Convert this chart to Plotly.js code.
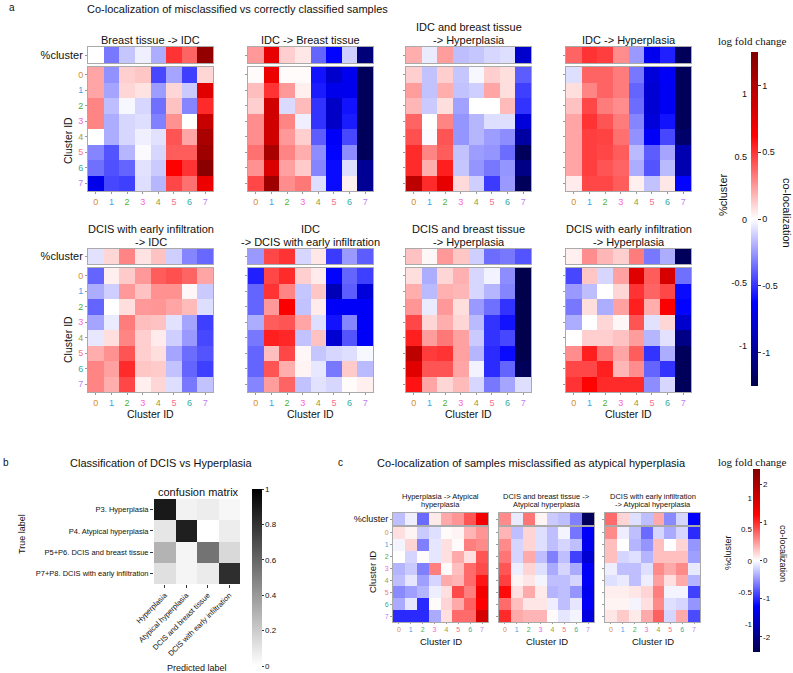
<!DOCTYPE html>
<html><head><meta charset="utf-8">
<script src="https://cdn.plot.ly/plotly-3.0.1.min.js"></script>
<style>body{margin:0;background:#fff}#chart{width:793px;height:673px}</style>
</head><body><div id="chart"></div>
<script>
const W = 793, H = 673;
const FONT = 'Liberation Sans, Arial, sans-serif';
const SERIF = 'Liberation Serif, Times New Roman, serif';

// ---------- shared categories ----------
const clusterIds = ['0','1','2','3','4','5','6','7'];
const clusterColors = ['#d58c32','#3ba3ec','#50b131','#f564d4','#a4a031','#f77189','#36ada4','#bb83f4'];

// ---------- panel a : titles ----------
const aTitles = [
  ['Breast tissue -> IDC'],
  ['IDC -> Breast tissue'],
  ['IDC and breast tissue', '-> Hyperplasia'],
  ['IDC -> Hyperplasia'],
  ['DCIS with early infiltration', '-> IDC'],
  ['IDC', '-> DCIS with early infiltration'],
  ['DCIS and breast tissue', '-> Hyperplasia'],
  ['DCIS with early infiltration', '-> Hyperplasia']
];

// ---------- panel a : %cluster rows ----------
const a1Pct = [0, -0.33, -0.14, -0.04, -0.2, 0.5, 0.38, 1.15];
const a2Pct = [0.25, 0.75, 0.12, 0.06, -0.38, -0.62, -0.12, -1.1];
const a3Pct = [0.2, -0.05, 0.24, -0.16, -0.14, -0.1, -0.08, -0.8];
const a4Pct = [0.38, 0.5, 0.47, 0.28, -0.25, -0.68, -0.55, -1.2];
const a5Pct = [-0.07, 0.1, 0.3, 0.07, 0.15, -0.12, -0.3, -0.37];
const a6Pct = [-0.25, 0.45, 0.5, -0.1, 0.06, -0.48, -0.25, -0.4];
const a7Pct = [0.15, 0.02, 0.25, 0.14, -0.12, -0.36, -0.33, -0.42];
const a8Pct = [0.04, 0.28, 0.18, 0.12, 0.32, -0.33, -0.2, -1.2];

// ---------- panel a : co-localization matrices ----------
const a1Co = [
  [0.22, -0.27, 0.12, 0.14, -0.45, -0.22, -0.47, 0.1],
  [0.22, -0.22, 0.1, 0.07, -0.24, 0.1, -0.13, 0.78],
  [0.3, -0.16, -0.02, -0.1, -0.35, 0.15, -0.3, 0.52],
  [0.3, -0.2, -0.1, -0.08, -0.31, 0.27, 0, 0.9],
  [0, -0.2, -0.1, -0.04, -0.07, 0.42, 0.22, 1.05],
  [-0.3, -0.42, -0.18, -0.01, -0.1, 0.4, 0.4, 1.1],
  [-0.35, -0.43, -0.38, -0.07, -0.13, 0.63, 0.5, 1.2],
  [-0.7, -0.45, -0.47, -0.08, -0.18, 0.45, 0.35, 0.72]
];
const a2Co = [
  [0.01, 0.72, 0.01, 0.01, -0.58, -0.8, -0.68, -1.2],
  [0.16, 0.5, 0.25, 0.04, -0.56, -0.7, -0.68, -1.2],
  [0.12, 0.85, -0.09, 0.17, -0.5, -0.82, -0.58, -1.2],
  [0.28, 0.85, 0.3, -0.04, -0.5, -0.82, -0.56, -1.2],
  [0.28, 0.85, 0.25, 0.12, -0.4, -0.65, -0.45, -1.2],
  [0.35, 1.05, 0.3, 0.2, -0.28, -0.62, -0.28, -1.2],
  [0.27, 0.8, 0.23, 0.13, -0.3, -0.6, -0.08, -1.0],
  [0.45, 1.1, 0.28, 0.33, -0.08, -0.6, 0.04, -1.0]
];
const a3Co = [
  [0.12, -0.15, 0.12, -0.14, -0.02, 0.12, 0.08, -0.4],
  [0.24, -0.15, 0.2, -0.15, -0.12, 0.22, 0.08, -0.47],
  [0.18, -0.13, 0.08, -0.23, 0, 0, 0.17, -0.5],
  [0.38, 0, 0.3, -0.26, -0.18, -0.08, -0.08, -0.75],
  [0.43, -0.01, 0.42, -0.26, -0.18, -0.24, -0.28, -0.95],
  [0.52, 0.3, 0.4, -0.15, -0.24, -0.26, -0.36, -1.2],
  [0.52, 0.2, 0.55, -0.14, -0.26, -0.33, -0.26, -1.05],
  [0.95, 0.52, 0.75, 0.09, -0.12, -0.48, -0.25, -1.2]
];
const a4Co = [
  [-0.08, 0.38, 0.38, 0.32, -0.33, -0.75, -0.65, -1.2],
  [0.08, 0.3, 0.38, 0.32, -0.38, -0.78, -0.66, -1.2],
  [0.15, 0.45, 0.32, 0.28, -0.36, -0.78, -0.66, -1.2],
  [0.22, 0.5, 0.42, 0.32, -0.3, -0.75, -0.58, -1.2],
  [0.22, 0.47, 0.46, 0.35, -0.27, -0.65, -0.45, -1.15],
  [0.22, 0.47, 0.45, 0.4, -0.17, -0.4, -0.22, -0.9],
  [0.22, 0.47, 0.42, 0.38, -0.2, -0.42, -0.17, -0.9],
  [0.05, 0.45, 0.45, 0.4, 0.04, -0.15, 0.06, -0.62]
];
const a5Co = [
  [-0.38, 0.04, 0.13, 0.25, 0.4, 0.43, 0.38, 0.22],
  [-0.2, -0.12, 0.25, 0.15, 0.27, 0.27, 0.02, -0.13],
  [-0.38, 0, 0.08, 0.25, 0.26, 0.22, 0.17, -0.08],
  [-0.22, -0.05, 0.32, 0.16, 0.15, -0.07, -0.22, -0.47],
  [-0.06, 0.08, 0.3, 0.12, 0.05, -0.12, -0.25, -0.45],
  [0.2, 0.27, 0.42, 0.12, 0.08, -0.22, -0.36, -0.42],
  [0.3, 0.23, 0.52, 0.14, 0.13, -0.15, -0.38, -0.47],
  [0.3, 0.2, 0.45, 0.04, 0.1, -0.08, -0.33, -0.15]
];
const a6Co = [
  [-0.55, 0.45, 0.52, 0.12, 0.05, -0.62, -0.38, -0.47],
  [-0.38, 0.5, 0.3, -0.14, 0.14, -0.88, -0.4, -0.75],
  [-0.38, 0.25, 0.65, -0.15, 0.05, -0.65, -0.65, -0.65],
  [-0.2, 0.4, 0.42, 0.22, -0.08, -0.58, -0.3, -0.65],
  [-0.33, 0.55, 0.53, -0.15, 0.15, -0.78, -0.42, -0.65],
  [-0.38, 0.16, 0.45, 0.02, -0.14, -0.1, -0.08, -0.02],
  [-0.38, 0.42, 0.2, 0.03, -0.06, -0.33, 0.13, -0.17],
  [-0.3, 0.24, 0.38, -0.15, -0.07, -0.1, 0.01, 0.04]
];
const a7Co = [
  [0.08, -0.2, 0.1, 0.19, -0.1, -0.03, -0.28, -1.25],
  [0.2, -0.17, 0.19, 0.18, -0.1, -0.18, -0.3, -1.25],
  [0.26, -0.05, 0.25, 0.08, -0.25, -0.35, -0.5, -1.25],
  [0.45, 0.1, 0.2, 0.1, -0.17, -0.5, -0.58, -1.25],
  [0.55, 0.24, 0.33, 0.23, -0.13, -0.5, -0.45, -1.25],
  [0.95, 0.48, 0.5, 0.23, -0.18, -0.52, -0.6, -1.25],
  [0.78, 0.42, 0.42, 0.22, -0.03, -0.52, -0.38, -1.2],
  [0.58, 0.22, 0.1, 0.17, -0.1, -0.33, -0.22, -0.08]
];
const a8Co = [
  [-0.45, 0.14, -0.1, 0.23, 0.78, 0.4, 0.82, -0.35],
  [-0.25, -0.16, 0, 0.1, 0.5, 0.38, 0.45, -0.6],
  [-0.33, 0.08, -0.2, 0.23, 0.55, 0.2, 0.65, -0.62],
  [-0.2, 0, 0.1, 0.02, 0.42, -0.07, 0.1, -0.8],
  [0, 0.12, 0.12, 0.15, 0.24, -0.18, -0.07, -1.05],
  [0.28, 0.55, 0.35, 0.22, 0.4, -0.5, -0.2, -1.2],
  [0.45, 0.45, 0.55, 0.18, 0.28, -0.38, -0.5, -1.2],
  [0.5, 0.62, 0.52, 0.52, 0.52, -0.28, -0.1, -1.2]
];

// ---------- panel b : confusion matrix ----------
const predLabels = ['Hyperplasia', 'Atypical hyperplasia', 'DCIS and breast tissue', 'DCIS with early infiltration'];
const trueLabels = ['P3. Hyperplasia', 'P4. Atypical hyperplasia', 'P5+P6. DCIS and breast tissue', 'P7+P8. DCIS with early infiltration'];
const confusion = [
  [0.9, 0.05, 0.07, 0.03],
  [0.1, 0.88, 0.0, 0.07],
  [0.3, 0.04, 0.55, 0.15],
  [0.12, 0.04, 0.08, 0.82]
];
const confTicks = [0, 0.2, 0.4, 0.6, 0.8, 1];

// ---------- panel c ----------
const cTitles = [
  ['Hyperplasia -> Atypical', 'hyperplasia'],
  ['DCIS and breast tissue ->', 'Atypical hyperplasia'],
  ['DCIS with early infiltration', '-> Atypical hyperplasia']
];
const c1Pct = [-0.3, -0.08, -0.7, 0.1, 0.4, 0.5, 0.8, 1.3];
const c2Pct = [0.55, -0.1, 0.65, 0.05, -0.25, -0.3, -0.6, -2.3];
const c3Pct = [0.7, 0.2, -0.15, -0.3, 0.4, -0.55, -0.2, -1.2];
const c1Co = [
  [0.15, 0.05, -0.25, -0.15, 0.02, 0.05, 0.35, 0.5],
  [-0.05, 0.2, -0.6, -0.12, 0.15, 0.02, 0.6, 0.55],
  [0, -0.2, 0.02, -0.12, 0.15, 0.4, 0.15, 0.8],
  [-0.35, -0.25, -0.6, 0.6, 0.02, 0.3, 0.7, 0.85],
  [-0.3, -0.12, -0.45, -0.2, 0.4, 0.35, 0.7, 1.1],
  [-0.55, -0.45, -0.35, -0.08, 0.15, 0.85, 0.6, 1.3],
  [-0.4, -0.12, -1.0, 0.02, 0.2, 0.4, 0.75, 1.2],
  [-1.0, -1.0, -1.0, -0.4, 0.15, 0.7, 0.7, 1.6]
];
const c2Co = [
  [0.35, -0.3, 0.2, -0.15, -0.3, -0.05, -0.65, -1.25],
  [0.55, -0.2, 0.2, -0.15, -0.3, -0.2, -0.3, -1.3],
  [0.65, -0.2, 0.4, -0.3, -0.6, -0.3, -0.9, -1.5],
  [0.8, -0.08, 0.2, -0.15, -0.4, -0.2, -0.4, -1.25],
  [0.9, 0.05, 0.12, -0.05, -0.3, -0.3, -0.2, -1.25],
  [1.15, 0.15, 0.4, 0.1, -0.35, -0.3, -0.5, -1.3],
  [0.7, 0.3, 0.12, 0.12, -0.08, -0.3, -0.12, -1.25],
  [1.0, 0.4, 0.35, 0.35, 0.02, -0.12, -0.05, -1.4]
];
const c3Co = [
  [0.55, -0.08, -0.3, -0.7, -0.2, -0.4, -0.2, -1.0],
  [0.3, 0, -0.35, -0.5, 0.3, 0, 0.2, -0.5],
  [0.3, -0.2, -0.15, -0.35, 0.3, 0.3, 0.3, -0.45],
  [-0.08, -0.3, -0.3, -0.15, 0.55, 0.4, 0.55, -0.1],
  [-0.15, -0.1, -0.3, -0.08, 0.45, 0.15, 0.4, -0.35],
  [0.08, 0.08, 0.12, 0.2, 0.6, -0.05, -0.05, -0.9],
  [0.05, 0.05, -0.05, 0.15, 0.55, -0.15, -0.2, -0.5],
  [0.12, 0.25, 0.1, 0.4, 0.75, -0.2, 0.4, -0.85]
];

// colour-bar tick labels
const aCoTicks = [-1, -0.5, 0, 0.5, 1];
const aPctTicks = [-1, -0.5, 0, 0.5, 1];
const cCoTicks = [-2, -1, 0, 1, 2];
const cPctTicks = [-1, -0.5, 0, 0.5, 1];

// ================= build =================
const seismic = [[0,'rgb(0,0,77)'],[0.25,'rgb(0,0,255)'],[0.5,'rgb(255,255,255)'],[0.75,'rgb(255,0,0)'],[1,'rgb(128,0,0)']];
const greys = [[0,'rgb(255,255,255)'],[1,'rgb(0,0,0)']];
const fmt = v => String(v);
const colored = clusterIds.map((id,i) => `<span style="color:${clusterColors[i]}">${id}</span>`);

const data = [];
const annotations = [];
const layout = {
  width: W, height: H, margin: {l:0, r:0, t:0, b:0},
  paper_bgcolor: '#fff', plot_bgcolor: '#fff', showlegend: false,
  font: {family: FONT, color: '#111'}, annotations
};
let n = 0;
function addAxes(xb, yb, xo, yo) {
  n++;
  const s = n === 1 ? '' : String(n);
  layout['xaxis' + s] = Object.assign({domain: [xb[0]/W, xb[1]/W], anchor: 'y' + s, fixedrange: true,
    showgrid: false, zeroline: false}, xo);
  layout['yaxis' + s] = Object.assign({domain: [1 - yb[1]/H, 1 - yb[0]/H], anchor: 'x' + s, fixedrange: true,
    showgrid: false, zeroline: false}, yo);
  return {xaxis: 'x' + s, yaxis: 'y' + s};
}
function ann(text, px, py, size, extra) {
  annotations.push(Object.assign({text, x: px/W, y: 1 - py/H, xref: 'paper', yref: 'paper',
    showarrow: false, font: {size, family: FONT, color: '#111'}, xanchor: 'center', yanchor: 'middle'}, extra || {}));
}
const frame = {showline: true, mirror: true, linecolor: '#aaa', linewidth: 1, type: 'category'};

function clusterPanel(pct, co, xb, stripY, mainY, zr, firstCol, tickSize, pctSize, xTickLen, colorbar) {
  const sa = addAxes(xb, stripY,
    Object.assign({}, frame, {showticklabels: false, ticks: ''}),
    Object.assign({}, frame, {showticklabels: firstCol, ticks: 'outside', ticklen: 2, tickcolor: '#999',
      tickfont: {size: pctSize}}));
  data.push({type: 'heatmap', x: clusterIds, y: ['%cluster'], z: [pct], colorscale: seismic,
    zmin: -zr, zmax: zr, showscale: false, hoverinfo: 'skip', xaxis: sa.xaxis, yaxis: sa.yaxis});
  const ma = addAxes(xb, mainY,
    Object.assign({}, frame, {tickvals: clusterIds, ticktext: colored, ticks: 'outside', ticklen: xTickLen,
      tickcolor: '#999', tickfont: {size: tickSize}}),
    Object.assign({}, frame, {autorange: 'reversed', tickvals: clusterIds, ticktext: colored,
      showticklabels: firstCol, ticks: 'outside', ticklen: 2, tickcolor: '#999', tickfont: {size: tickSize}}));
  const tr = {type: 'heatmap', x: clusterIds, y: clusterIds, z: co, colorscale: seismic,
    zmin: -zr, zmax: zr, showscale: !!colorbar, hoverinfo: 'skip', xaxis: ma.xaxis, yaxis: ma.yaxis};
  if (colorbar) tr.colorbar = colorbar;
  data.push(tr);
}

// ---- panel a ----
const aPct = [a1Pct, a2Pct, a3Pct, a4Pct, a5Pct, a6Pct, a7Pct, a8Pct];
const aCo = [a1Co, a2Co, a3Co, a4Co, a5Co, a6Co, a7Co, a8Co];
const aX = [[88,213],[248,373],[406,531],[566,691]];
const aRows = [{strip:[47,63], main:[67,191], titleY:40},
               {strip:[249,264], main:[268,392], titleY:242}];
const aColorbar = {x: 751/W, xanchor: 'left', y: 1 - 52/H, yanchor: 'top', len: 334, lenmode: 'pixels',
  thickness: 7, thicknessmode: 'pixels', outlinewidth: 0, xpad: 0, ypad: 0,
  tickvals: aCoTicks, ticktext: aCoTicks.map(fmt), ticks: 'outside', ticklen: 3, tickcolor: '#333',
  tickfont: {size: 9, family: FONT}};
for (let k = 0; k < 8; k++) {
  const row = aRows[Math.floor(k/4)], col = k % 4;
  clusterPanel(aPct[k], aCo[k], aX[col], row.strip, row.main, 1.25, col === 0, 9, 11, 2,
    k === 0 ? aColorbar : null);
  const cx = (aX[col][0] + aX[col][1]) / 2;
  const t = aTitles[k];
  if (t.length === 1) ann(t[0], cx, row.titleY, 11);
  else { ann(t[0], cx, row.titleY - 13, 11); ann(t[1], cx, row.titleY, 11); }
  if (Math.floor(k/4) === 1) ann('Cluster ID', cx, 414, 10.5);
}
ann('Cluster ID', 68, 141, 10.5, {textangle: -90});
ann('Cluster ID', 68, 340, 10.5, {textangle: -90});

// left (%cluster) scale of panel a colourbar
{
  const fa = addAxes([751,758],[52,386], {visible: false, range: [0,1]},
    {anchor: 'free', position: 747/W, side: 'left', range: [-1.32, 1.33], tickvals: aPctTicks,
     ticktext: aPctTicks.map(fmt), ticks: '', showline: false, tickfont: {size: 9}});
  data.push({type: 'scatter', x: [], y: [], xaxis: fa.xaxis, yaxis: fa.yaxis, hoverinfo: 'skip'});
}
ann('log fold change', 752, 41, 11, {font: {size: 11, family: SERIF, color: '#111'}});
ann('%cluster', 723, 195, 11, {textangle: -90});
ann('co-localization', 787, 213, 11, {textangle: 90});

ann('a', 12, 8, 10);
ann('Co-localization of misclassified vs correctly classified samples', 237, 9, 11);

// ---- panel b ----
{
  const ba = addAxes([154,240],[499,584],
    {type: 'category', tickangle: -45, ticks: 'outside', ticklen: 3, tickcolor: '#333', tickfont: {size: 7.5}},
    {type: 'category', autorange: 'reversed', ticks: 'outside', ticklen: 3, tickcolor: '#333', tickfont: {size: 7.5}});
  data.push({type: 'heatmap', x: predLabels, y: trueLabels, z: confusion, colorscale: greys, zmin: 0, zmax: 1,
    hoverinfo: 'skip', xaxis: ba.xaxis, yaxis: ba.yaxis, showscale: true,
    colorbar: {x: 252/W, xanchor: 'left', y: 1 - 489/H, yanchor: 'top', len: 177, lenmode: 'pixels',
      thickness: 10, thicknessmode: 'pixels', outlinewidth: 0, xpad: 0, ypad: 0,
      tickvals: confTicks, ticktext: confTicks.map(fmt), ticks: 'outside', ticklen: 2, tickcolor: '#333',
      tickfont: {size: 8, family: FONT}}});
}
ann('b', 6, 462, 10);
ann('Classification of DCIS vs Hyperplasia', 161, 463, 11);
ann('confusion matrix', 198, 492, 11);
ann('Predicted label', 197, 668, 9);
ann('True label', 22, 534, 9, {textangle: -90});

// ---- panel c ----
const cPct = [c1Pct, c2Pct, c3Pct];
const cCo = [c1Co, c2Co, c3Co];
const cX = [[393,488],[499,594],[605,700]];
const cColorbar = {x: 753/W, xanchor: 'left', y: 1 - 469/H, yanchor: 'top', len: 183, lenmode: 'pixels',
  thickness: 7, thicknessmode: 'pixels', outlinewidth: 0, xpad: 0, ypad: 0,
  tickvals: cCoTicks, ticktext: cCoTicks.map(fmt), ticks: 'outside', ticklen: 2, tickcolor: '#333',
  tickfont: {size: 8, family: FONT}};
for (let k = 0; k < 3; k++) {
  clusterPanel(cPct[k], cCo[k], cX[k], [513,525], [527,622], 2.4, k === 0, 7, 9, 1,
    k === 0 ? cColorbar : null);
  const cx = (cX[k][0] + cX[k][1]) / 2;
  ann(cTitles[k][0], cx, 496, 7.5);
  ann(cTitles[k][1], cx, 504, 7.5);
  ann('Cluster ID', cx, 641, 9.5);
}
ann('Cluster ID', 372, 572, 9.5, {textangle: -90});
{
  const fc = addAxes([753,760],[469,652], {visible: false, range: [0,1]},
    {anchor: 'free', position: 752/W, side: 'left', range: [-1.44, 1.46], tickvals: cPctTicks,
     ticktext: cPctTicks.map(fmt), ticks: '', showline: false, tickfont: {size: 8}});
  data.push({type: 'scatter', x: [], y: [], xaxis: fc.xaxis, yaxis: fc.yaxis, hoverinfo: 'skip'});
}
ann('log fold change', 752, 462, 11, {font: {size: 11, family: SERIF, color: '#111'}});
ann('%cluster', 728, 553, 9, {textangle: -90});
ann('co-localization', 783, 553, 9, {textangle: 90});
ann('c', 340, 462, 10);
ann('Co-localization of samples misclassified as atypical hyperplasia', 531, 463, 11);

Plotly.newPlot('chart', data, layout, {displayModeBar: false, staticPlot: true});
</script>
</body></html>
